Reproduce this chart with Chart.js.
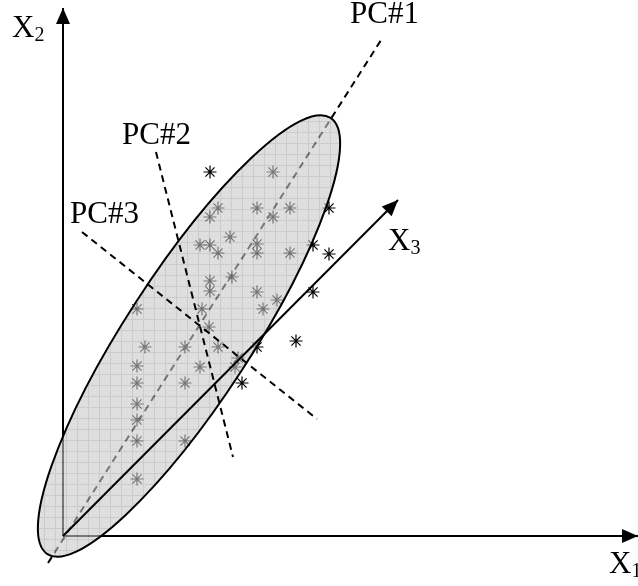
<!DOCTYPE html>
<html>
<head>
<meta charset="utf-8">
<script src="https://cdn.jsdelivr.net/npm/chart.js@4"></script>
<style>
  body { margin: 0; background: #fff; }
  canvas { display: block; }
</style>
</head>
<body>
<canvas id="pcaChart" width="638" height="586"></canvas>
<script>
// Observations (X1, X2 plane, origin at the axes corner)
const starX = [210, 155, 147, 194, 227, 210, 167, 137, 147, 155, 194, 194, 227, 147, 147, 169, 194, 214, 200,
  74, 139, 146, 82, 122, 155, 194, 74, 137, 175, 172, 74, 122, 74, 74, 74, 122, 74,
  147, 266, 250, 266, 250, 233, 179];
const starY = [364, 328, 319, 328, 328, 319, 299, 291, 291, 283, 292, 283, 283, 255, 245, 259, 244, 236, 227,
  227, 227, 209, 189, 189, 189, 189, 170, 169, 178, 169, 153, 153, 132, 116, 95, 95, 57,
  364, 328, 291, 282, 244, 195, 153];

// Axes and principal components
const lineNames = ['X3', 'PC#2', 'PC#3', 'PC#1', 'X1', 'X2'];
const lineStartX = [0, 93, 19, -15, 0, 0];
const lineStartY = [0, 384, 304, -27, 0, 0];
const lineEndX = [335, 170, 254, 320, 575, 0];
const lineEndY = [336, 79, 117, 499, 0, 528];
const lineDashed = [false, true, true, true, false, false];
const arrowLines = ['X1', 'X2', 'X3'];

// Text labels
const labelText = ['PC#1', 'PC#2', 'PC#3', 'X', 'X', 'X'];
const labelSub = ['', '', '', '2', '3', '1'];
const labelX = [287, 59, 7, -51, 325, 546];
const labelY = [513, 392, 313, 499, 286, -37];

// Data ellipse
const ellipseCenter = [126, 200];
const ellipseAxes = [260, 63];
const ellipseAngle = 57;

const lineSets = lineNames.map((name, i) => ({
  label: name,
  data: [{x: lineStartX[i], y: lineStartY[i]}, {x: lineEndX[i], y: lineEndY[i]}],
  showLine: true,
  pointRadius: 0,
  borderColor: '#000',
  borderWidth: 2,
  borderDash: lineDashed[i] ? [7, 5] : [],
  fill: false
}));

const starSet = {
  label: 'obs',
  data: starX.map((x, i) => ({x: x, y: starY[i]})),
  pointStyle: 'star',
  pointRadius: 6.5,
  borderColor: '#000',
  backgroundColor: '#000',
  borderWidth: 1.2,
  showLine: false
};

// index 0 is drawn last (on top)
const datasets = [lineSets[0], lineSets[1], lineSets[2], starSet, lineSets[3], lineSets[4], lineSets[5]];

function makePattern(ctx) {
  const tile = document.createElement('canvas');
  tile.width = 11;
  tile.height = 11;
  const t = tile.getContext('2d');
  t.fillStyle = '#c8c8c8';
  t.fillRect(0, 0, 11, 11);
  t.fillStyle = '#d6d6d6';
  t.fillRect(3, 3, 1, 1);
  t.fillRect(7, 7, 1, 1);
  t.fillRect(3, 7, 1, 1);
  t.fillRect(7, 3, 1, 1);
  t.fillStyle = '#ababab';
  t.fillRect(0, 0, 11, 1);
  t.fillRect(0, 0, 1, 11);
  return ctx.createPattern(tile, 'repeat');
}

const ellipsePlugin = {
  id: 'ellipse',
  beforeDatasetDraw(chart, args) {
    if (chart.data.datasets[args.index].label !== 'PC#3') return;
    const ctx = chart.ctx;
    const xs = chart.scales.x, ys = chart.scales.y;
    const cx = xs.getPixelForValue(ellipseCenter[0]);
    const cy = ys.getPixelForValue(ellipseCenter[1]);
    const sx = xs.getPixelForValue(1) - xs.getPixelForValue(0);
    const sy = ys.getPixelForValue(0) - ys.getPixelForValue(1);
    ctx.save();
    ctx.translate(cx, cy);
    ctx.scale(sx, -sy);
    ctx.beginPath();
    ctx.ellipse(0, 0, ellipseAxes[0], ellipseAxes[1], ellipseAngle * Math.PI / 180, 0, Math.PI * 2);
    ctx.restore();
    ctx.save();
    ctx.globalAlpha = 0.6;
    ctx.fillStyle = makePattern(ctx);
    ctx.fill();
    ctx.globalAlpha = 1;
    ctx.lineWidth = 2;
    ctx.strokeStyle = '#000';
    ctx.stroke();
    ctx.restore();
  }
};

const decorPlugin = {
  id: 'decor',
  afterDatasetsDraw(chart) {
    const ctx = chart.ctx;
    const xs = chart.scales.x, ys = chart.scales.y;
    ctx.save();
    // arrow heads
    chart.data.datasets.forEach((ds, i) => {
      if (!arrowLines.includes(ds.label)) return;
      const pts = chart.getDatasetMeta(i).data;
      const a = pts[0], b = pts[pts.length - 1];
      const ang = Math.atan2(b.y - a.y, b.x - a.x);
      const len = 16, half = 7;
      ctx.beginPath();
      ctx.moveTo(b.x, b.y);
      ctx.lineTo(b.x - len * Math.cos(ang) + half * Math.sin(ang), b.y - len * Math.sin(ang) - half * Math.cos(ang));
      ctx.lineTo(b.x - len * Math.cos(ang) - half * Math.sin(ang), b.y - len * Math.sin(ang) + half * Math.cos(ang));
      ctx.closePath();
      ctx.fillStyle = '#000';
      ctx.fill();
    });
    // labels
    ctx.fillStyle = '#000';
    ctx.textBaseline = 'alphabetic';
    ctx.textAlign = 'left';
    labelText.forEach((txt, i) => {
      const px = xs.getPixelForValue(labelX[i]);
      const py = ys.getPixelForValue(labelY[i]);
      ctx.font = '31px "Liberation Serif", "Times New Roman", serif';
      ctx.fillText(txt, px, py);
      if (labelSub[i]) {
        const w = ctx.measureText(txt).width;
        ctx.font = '20px "Liberation Serif", "Times New Roman", serif';
        ctx.fillText(labelSub[i], px + w, py + 4);
      }
    });
    ctx.restore();
  }
};

new Chart(document.getElementById('pcaChart').getContext('2d'), {
  type: 'scatter',
  data: { datasets: datasets },
  options: {
    responsive: false,
    animation: false,
    layout: { padding: 0, autoPadding: false },
    plugins: { legend: { display: false }, tooltip: { enabled: false } },
    scales: {
      x: { type: 'linear', min: -63, max: 575, display: false },
      y: { type: 'linear', min: -50, max: 536, display: false }
    }
  },
  plugins: [ellipsePlugin, decorPlugin]
});
</script>
</body>
</html>
